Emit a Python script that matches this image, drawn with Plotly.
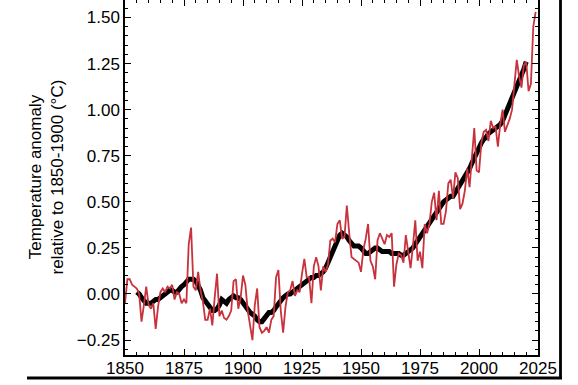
import plotly.graph_objects as go

# ---- data ----
annual_start = 1850
annual_anomaly = [
    -0.05, 0.08, 0.08, 0.05, 0.04, 0.03, 0.00, -0.15, -0.06, 0.04,
    -0.06, -0.08, -0.05, -0.19, -0.07, 0.01, 0.03, 0.01, 0.04, 0.03,
    0.05, -0.03, 0.01, 0.00, -0.05, -0.03, -0.05, 0.27, 0.36, 0.04,
    0.02, 0.12, 0.02, -0.04, -0.14, -0.14, -0.08, -0.17, -0.02, 0.11,
    -0.12, -0.09, -0.13, -0.14, -0.12, -0.09, 0.07, 0.08, -0.08, -0.02,
    0.10, 0.05, -0.09, -0.16, -0.25, -0.06, 0.03, -0.18, -0.21, -0.20,
    -0.18, -0.21, -0.14, -0.12, 0.09, 0.13, -0.09, -0.21, -0.07, 0.01,
    0.02, 0.07, -0.01, 0.02, 0.01, 0.11, 0.19, 0.09, 0.09, -0.05,
    0.15, 0.20, 0.15, 0.02, 0.15, 0.12, 0.16, 0.29, 0.30, 0.28,
    0.38, 0.40, 0.30, 0.31, 0.48, 0.33, 0.20, 0.19, 0.18, 0.17,
    0.12, 0.24, 0.30, 0.38, 0.18, 0.15, 0.08, 0.29, 0.33, 0.30,
    0.27, 0.32, 0.31, 0.33, 0.04, 0.16, 0.22, 0.21, 0.17, 0.32,
    0.24, 0.14, 0.26, 0.40, 0.18, 0.23, 0.14, 0.38, 0.33, 0.38,
    0.50, 0.55, 0.40, 0.56, 0.38, 0.38, 0.45, 0.60, 0.62, 0.52,
    0.66, 0.63, 0.46, 0.49, 0.56, 0.68, 0.58, 0.72, 0.90, 0.67,
    0.66, 0.82, 0.88, 0.89, 0.83, 0.94, 0.90, 0.91, 0.80, 0.92,
    1.00, 0.88, 0.91, 0.95, 1.00, 1.12, 1.27, 1.18, 1.12, 1.24,
    1.26, 1.10, 1.14, 1.45, 1.53,
]
annual_years = list(range(annual_start, annual_start + len(annual_anomaly)))

smooth_start = 1855
smooth_anomaly = [
    0.01, 0.00, -0.02, -0.04, -0.05,
    -0.05, -0.05, -0.04, -0.03, -0.03, -0.02, -0.01, 0.00, 0.01, 0.02,
    0.02, 0.01, 0.01, 0.03, 0.04, 0.05, 0.07, 0.08, 0.08, 0.08,
    0.07, 0.05, 0.02, -0.02, -0.04, -0.06, -0.08, -0.09, -0.09, -0.08,
    -0.06, -0.03, -0.04, -0.05, -0.03, -0.02, -0.01, -0.02, -0.02, -0.03,
    -0.05, -0.06, -0.08, -0.10, -0.11, -0.12, -0.14, -0.15, -0.15, -0.13,
    -0.11, -0.10, -0.10, -0.09, -0.07, -0.05, -0.03, -0.02, -0.01, 0.00,
    0.00, 0.01, 0.02, 0.03, 0.04, 0.05, 0.06, 0.07, 0.08, 0.09,
    0.09, 0.10, 0.10, 0.11, 0.12, 0.14, 0.17, 0.20, 0.23, 0.27,
    0.30, 0.32, 0.33, 0.32, 0.31, 0.29, 0.27, 0.26, 0.26, 0.26,
    0.25, 0.23, 0.22, 0.22, 0.23, 0.24, 0.25, 0.25, 0.24, 0.23,
    0.23, 0.23, 0.23, 0.22, 0.22, 0.22, 0.22, 0.21, 0.21, 0.22,
    0.23, 0.24, 0.25, 0.27, 0.29, 0.31, 0.33, 0.35, 0.37, 0.39,
    0.41, 0.43, 0.45, 0.47, 0.49, 0.50, 0.51, 0.52, 0.53, 0.53,
    0.55, 0.57, 0.59, 0.61, 0.63, 0.65, 0.68, 0.71, 0.74, 0.77,
    0.79, 0.82, 0.84, 0.85, 0.87, 0.88, 0.89, 0.90, 0.91, 0.92,
    0.94, 0.97, 1.00, 1.03, 1.06, 1.09, 1.12, 1.15, 1.18, 1.22,
    1.26,
]
smooth_years = list(range(smooth_start, smooth_start + len(smooth_anomaly)))

x_ticks = [1850, 1875, 1900, 1925, 1950, 1975, 2000, 2025]
y_ticks = [-0.25, 0.00, 0.25, 0.50, 0.75, 1.00, 1.25, 1.50]
y_title = "Temperature anomaly<br>relative to 1850-1900 (°C)"

FONT = "Liberation Sans, Arial, Helvetica, sans-serif"

fig = go.Figure()
fig.add_trace(go.Scatter(
    x=annual_years, y=annual_anomaly, mode="lines",
    line=dict(color="#c8323c", width=1.8),
    xaxis="x2", yaxis="y", showlegend=False, hoverinfo="skip",
))
fig.add_trace(go.Scatter(
    x=smooth_years, y=smooth_anomaly, mode="lines",
    line=dict(color="black", width=5),
    showlegend=False, hoverinfo="skip",
))

axis_common = dict(
    showgrid=False, zeroline=False, ticks="inside", tickcolor="black",
    tickwidth=1, ticklen=6,
    tickfont=dict(family=FONT, size=17, color="black"),
)

fig.update_layout(
    width=578, height=385,
    margin=dict(l=125, r=40, t=0, b=30),
    paper_bgcolor="white", plot_bgcolor="white",
    font=dict(family=FONT, color="black"),
    xaxis=dict(
        **axis_common,
        range=[1850, 2025], tickvals=x_ticks, ticklabelstandoff=-3,
        showline=True, linecolor="black", linewidth=1.5, mirror=False,
        minor=dict(dtick=5, tick0=1850, ticks="inside", ticklen=3,
                   tickcolor="black", tickwidth=1),
    ),
    xaxis2=dict(
        **axis_common,
        range=[1850, 2025], tickvals=x_ticks, overlaying="x", side="top",
        matches="x", showticklabels=False, showline=False,
        minor=dict(dtick=5, tick0=1850, ticks="inside", ticklen=3,
                   tickcolor="black", tickwidth=1),
    ),
    yaxis=dict(
        **axis_common,
        range=[-0.331, 1.595], tickvals=y_ticks, tickformat=".2f",
        showline=True, linecolor="black", linewidth=1.5, mirror="ticks",
        minor=dict(dtick=0.05, tick0=0, ticks="inside", ticklen=3,
                   tickcolor="black", tickwidth=1),
    ),
    annotations=[dict(
        text=y_title, textangle=-90, xref="paper", yref="paper",
        x=(46 - 125) / 413, y=0.5, xanchor="center", yanchor="middle",
        showarrow=False, font=dict(family=FONT, size=17, color="black"),
    )],
    shapes=[
        dict(type="line", xref="paper", yref="paper",
             x0=(27 - 125) / 413, x1=(562 - 125) / 413,
             y0=(355 - 378) / 355, y1=(355 - 378) / 355,
             line=dict(color="black", width=2.8)),
        dict(type="line", xref="paper", yref="paper",
             x0=(560.5 - 125) / 413, x1=(560.5 - 125) / 413,
             y0=(355 - 379) / 355, y1=1.1,
             line=dict(color="black", width=2.8)),
    ],
)

fig.write_html(
    "out.html",
    config={"displayModeBar": False},
    post_script="document.body.style.margin='0';",
)
